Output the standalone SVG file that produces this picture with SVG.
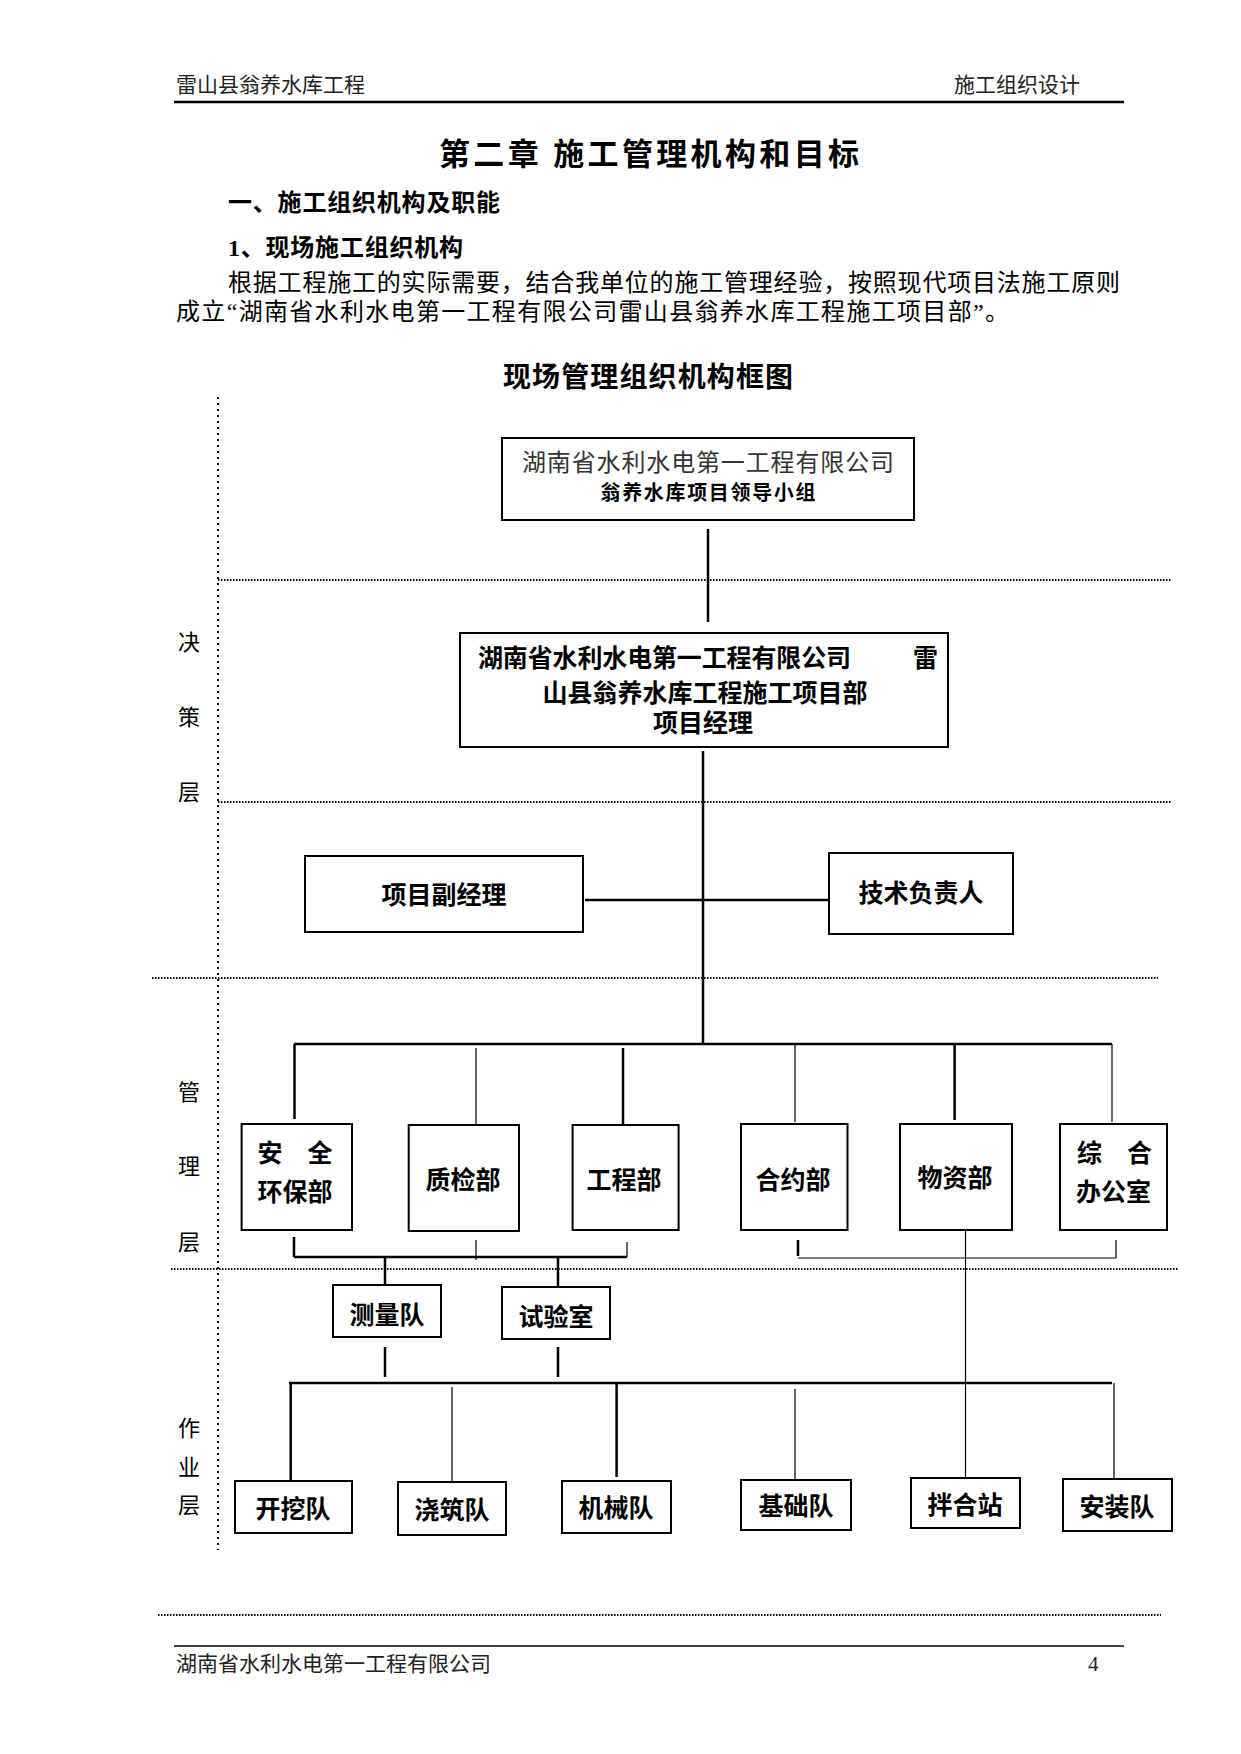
<svg xmlns="http://www.w3.org/2000/svg" width="1241" height="1754" viewBox="0 0 1241 1754">
<style>
text{font-family:"Liberation Serif","Noto Sans CJK SC",serif;fill:#000}
.hd{font-size:21px;fill:#222}
.b{font-weight:bold}
.c{text-anchor:middle;dominant-baseline:central}
.m{dominant-baseline:central}
.bx{font-size:25px;font-weight:bold}
.lb{font-size:22px}
rect{fill:#fff;stroke:#000;stroke-width:2}
.dot{stroke:#000;stroke-width:2;stroke-dasharray:1.5 1.5;fill:none}
.vdot{stroke:#000;stroke-width:2;stroke-dasharray:2 4;fill:none}
.k{stroke:#000;stroke-width:2.5;fill:none}
.t{stroke:#000;stroke-width:1.2;fill:none}
</style>
<rect width="1241" height="1754" style="fill:#fff;stroke:none"/>
<!-- page header -->
<text class="hd m" x="176" y="85">雷山县翁养水库工程</text>
<text class="hd m" x="954" y="85">施工组织设计</text>
<line x1="174" y1="102" x2="1124" y2="102" stroke="#000" stroke-width="2.5"/>
<text class="b m" x="439" y="154" font-size="31" textLength="420">第二章 施工管理机构和目标</text>
<text class="b m" x="228" y="203" font-size="24" textLength="272">一、施工组织机构及职能</text>
<text class="b m" x="228" y="248" font-size="24" textLength="235">1、现场施工组织机构</text>
<text class="m" x="228" y="283" font-size="24" textLength="892">根据工程施工的实际需要，结合我单位的施工管理经验，按照现代项目法施工原则</text>
<text class="m" x="176" y="312" font-size="24" textLength="833">成立“湖南省水利水电第一工程有限公司雷山县翁养水库工程施工项目部”。</text>
<text class="b c" x="648" y="377" font-size="28" textLength="290">现场管理组织机构框图</text>
<!-- layer dividers -->
<g id="layers">
<line class="vdot" x1="218" y1="397" x2="218" y2="1550"/>
<line class="dot" x1="218" y1="580" x2="1172" y2="580"/>
<line class="dot" x1="218" y1="802" x2="1172" y2="802"/>
<line class="dot" x1="152" y1="978" x2="1158" y2="978"/>
<line class="dot" x1="171" y1="1269" x2="1179" y2="1269"/>
<line class="dot" x1="158" y1="1615" x2="1161" y2="1615"/>
<text class="lb c" x="189" y="642">决</text>
<text class="lb c" x="189" y="717">策</text>
<text class="lb c" x="189" y="792">层</text>
<text class="lb c" x="189" y="1092">管</text>
<text class="lb c" x="189" y="1166">理</text>
<text class="lb c" x="189" y="1242">层</text>
<text class="lb c" x="189" y="1428">作</text>
<text class="lb c" x="189" y="1467">业</text>
<text class="lb c" x="189" y="1505">层</text>
</g>
<!-- connectors -->
<g id="connectors">
<line class="k" x1="708" y1="529" x2="708" y2="622"/>
<line class="k" x1="703" y1="751" x2="703" y2="1044"/>
<line class="k" x1="585" y1="900" x2="829" y2="900"/>
<line class="k" x1="294" y1="1044" x2="1112" y2="1044"/>
<line class="k" x1="294.5" y1="1044" x2="294.5" y2="1119"/>
<line class="t" x1="476" y1="1048" x2="476" y2="1124"/>
<line class="k" x1="623" y1="1048" x2="623" y2="1124"/>
<line class="t" x1="795" y1="1044" x2="795" y2="1122"/>
<line class="k" x1="954.6" y1="1044" x2="954.6" y2="1120"/>
<line class="t" x1="1112" y1="1044" x2="1112" y2="1122"/>
<!-- left bracket -->
<line class="k" x1="294" y1="1237" x2="294" y2="1257"/>
<line class="k" x1="294" y1="1257" x2="627" y2="1257"/>
<line class="t" x1="627" y1="1242" x2="627" y2="1257"/>
<line class="t" x1="476" y1="1240" x2="476" y2="1260"/>
<line class="k" x1="385" y1="1257" x2="385" y2="1285"/>
<line class="k" x1="558" y1="1257" x2="558" y2="1287"/>
<line class="k" x1="385" y1="1347" x2="385" y2="1377"/>
<line class="k" x1="558" y1="1347" x2="558" y2="1377"/>
<!-- right bracket -->
<line class="k" x1="798" y1="1240" x2="798" y2="1256"/>
<line class="t" x1="798" y1="1258" x2="1116" y2="1258"/>
<line class="t" x1="1116" y1="1240" x2="1116" y2="1258"/>
<line class="t" x1="965.5" y1="1230" x2="965.5" y2="1477"/>
<!-- work bus -->
<line class="k" x1="289" y1="1383" x2="1112" y2="1383"/>
<line class="k" x1="290.7" y1="1383" x2="290.7" y2="1480"/>
<line class="t" x1="452" y1="1387" x2="452" y2="1482"/>
<line class="k" x1="616.6" y1="1383" x2="616.6" y2="1477"/>
<line class="t" x1="795" y1="1389" x2="795" y2="1480"/>
<line class="t" x1="1114" y1="1383" x2="1114" y2="1478"/>
</g>
<!-- nodes -->
<g id="n-leader">
<rect x="502" y="438" width="412" height="82"/>
<text class="c" x="708" y="463" font-size="24" textLength="372" style="fill:#333">湖南省水利水电第一工程有限公司</text>
<text class="c b" x="708" y="493" font-size="20" textLength="215">翁养水库项目领导小组</text>
</g>
<g id="n-pm">
<rect x="460" y="633" width="488" height="114"/>
<text class="bx m" x="478" y="658"><tspan textLength="373">湖南省水利水电第一工程有限公司</tspan><tspan x="913">雷</tspan></text>
<text class="bx c" x="705" y="693">山县翁养水库工程施工项目部</text>
<text class="bx c" x="703" y="723">项目经理</text>
</g>
<g id="n-deputy">
<rect x="305" y="856" width="278" height="76"/>
<text class="bx c" x="444" y="895">项目副经理</text>
</g>
<g id="n-tech">
<rect x="829" y="853" width="184" height="81"/>
<text class="bx c" x="921" y="893">技术负责人</text>
</g>
<g id="n-safety">
<rect x="241.6" y="1124" width="110.4" height="106"/>
<text class="bx m" x="257.5" y="1153">安　全</text>
<text class="bx m" x="257.5" y="1192">环保部</text>
</g>
<g id="n-quality">
<rect x="408.7" y="1125" width="110.3" height="106"/>
<text class="bx c" x="463" y="1180">质检部</text>
</g>
<g id="n-eng">
<rect x="572.6" y="1125" width="106" height="105"/>
<text class="bx c" x="624" y="1180">工程部</text>
</g>
<g id="n-contract">
<rect x="741" y="1124" width="106.5" height="106"/>
<text class="bx c" x="793" y="1180">合约部</text>
</g>
<g id="n-material">
<rect x="900" y="1124" width="112" height="106"/>
<text class="bx c" x="955" y="1178">物资部</text>
</g>
<g id="n-office">
<rect x="1060" y="1124" width="107" height="106"/>
<text class="bx m" x="1077" y="1153">综　合</text>
<text class="bx m" x="1076" y="1192">办公室</text>
</g>
<g id="n-survey">
<rect x="333" y="1285" width="108" height="52"/>
<text class="bx c" x="387" y="1315">测量队</text>
</g>
<g id="n-lab">
<rect x="502" y="1287" width="108" height="52"/>
<text class="bx c" x="556" y="1317">试验室</text>
</g>
<g id="n-excav">
<rect x="235" y="1481" width="117" height="52"/>
<text class="bx c" x="293" y="1509">开挖队</text>
</g>
<g id="n-pour">
<rect x="398" y="1482" width="108" height="53"/>
<text class="bx c" x="452" y="1510">浇筑队</text>
</g>
<g id="n-mech">
<rect x="562" y="1481" width="109" height="52"/>
<text class="bx c" x="616" y="1508">机械队</text>
</g>
<g id="n-found">
<rect x="741" y="1480" width="110" height="50"/>
<text class="bx c" x="796" y="1506">基础队</text>
</g>
<g id="n-mix">
<rect x="911" y="1478" width="109" height="50"/>
<text class="bx c" x="965" y="1505">拌合站</text>
</g>
<g id="n-install">
<rect x="1063" y="1479" width="109" height="52"/>
<text class="bx c" x="1117" y="1507">安装队</text>
</g>
<!-- footer -->
<line x1="174" y1="1646" x2="1124" y2="1646" stroke="#000" stroke-width="1.5"/>
<text class="hd m" x="176" y="1664">湖南省水利水电第一工程有限公司</text>
<text class="hd m" x="1088" y="1664">4</text>
</svg>
